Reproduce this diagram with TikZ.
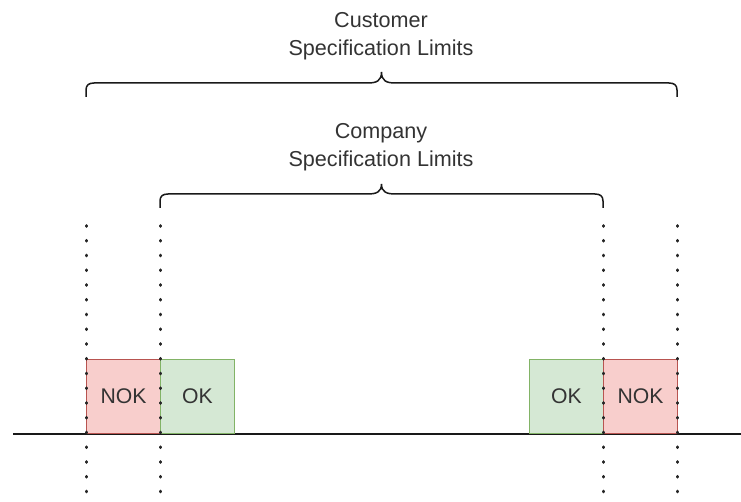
\documentclass[tikz,border=0pt]{standalone}
\usepackage{fontspec}
\setmainfont{Liberation Sans}
\begin{document}
\begin{tikzpicture}[x=1pt,y=-1pt,
  txt/.style={font=\fontsize{21.6}{28}\selectfont, text=black!80, align=center, inner sep=0pt},
  bracket/.style={draw=black!90, line width=1.5pt},
  limitbox/.style={line width=1.1pt, minimum width=74pt, minimum height=74pt, inner sep=0pt, anchor=south west,
    font=\fontsize{21.2}{24}\selectfont, text=black!80},
  nokbox/.style={limitbox, fill=nokfill, draw=nokline},
  okbox/.style={limitbox, fill=okfill, draw=okline},
  limit/.style={line width=3pt, line cap=round, dash pattern=on 0.8pt off 13.95pt, black!85}]
\definecolor{nokfill}{HTML}{F8CECC}
\definecolor{nokline}{HTML}{B85450}
\definecolor{okfill}{HTML}{D5E8D4}
\definecolor{okline}{HTML}{82B366}
\useasboundingbox (0,0) rectangle (741,502);

% baseline
\coordinate (axisL) at (13,434);
\coordinate (axisR) at (741,434);
\draw[line width=1.5pt, black!90] (axisL) -- (axisR);

% tolerance boxes
\node[nokbox] (nokL) at (86,434) {NOK};
\node[okbox] (okL) at (160,434) {OK};
\node[okbox] (okR) at (529,434) {OK};
\node[nokbox] (nokR) at (603,434) {NOK};

% limit lines
\foreach \x/\n in {86/a,160/b,603/c,677/d}{
  \coordinate (top\n) at (\x,225.6);
  \coordinate (bot\n) at (\x,494);
  \draw[limit] (top\n) -- (bot\n);
}

% brackets
\newcommand\curlybracket[4]{% left x, right x, line y, tip y
  \pgfmathsetmacro\mx{(#1+#2)/2}
  \draw[bracket] (#1,#3+14) -- (#1,#3+7) .. controls (#1,#3+2) and (#1+3,#3) .. (#1+8,#3)
    -- (\mx-14,#3) .. controls (\mx-5,#3) and (\mx,#3-2) .. (\mx,#4)
    (\mx,#4) .. controls (\mx,#3-2) and (\mx+5,#3) .. (\mx+14,#3)
    -- (#2-8,#3) .. controls (#2-3,#3) and (#2,#3+2) .. (#2,#3+7) -- (#2,#3+14);
}
\curlybracket{86}{677}{83}{72}
\curlybracket{160}{603}{194}{184}

% labels
\node[txt] (customer) at (381,36) {Customer\\Specification Limits};
\node[txt] (company) at (381,147) {Company\\Specification Limits};
\end{tikzpicture}
\end{document}
